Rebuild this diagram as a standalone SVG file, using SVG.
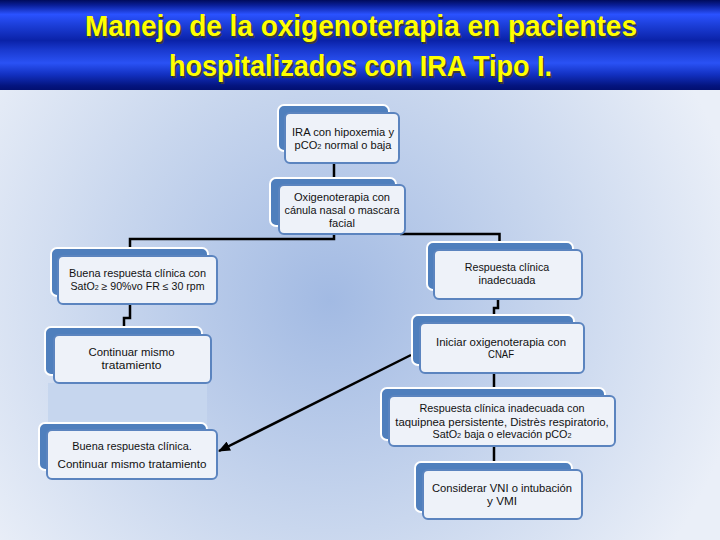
<svg xmlns="http://www.w3.org/2000/svg" width="720" height="540" viewBox="0 0 720 540">
<defs>
<linearGradient id="band" x1="0" y1="0" x2="0" y2="1">
<stop offset="0" stop-color="#000b5c"/>
<stop offset="0.06" stop-color="#0a1f9a"/>
<stop offset="0.16" stop-color="#2a52ff"/>
<stop offset="0.28" stop-color="#1c3ed8"/>
<stop offset="0.45" stop-color="#0a22a8"/>
<stop offset="0.56" stop-color="#1a3ad0"/>
<stop offset="0.7" stop-color="#2a52f5"/>
<stop offset="0.83" stop-color="#1230c0"/>
<stop offset="0.95" stop-color="#041580"/>
<stop offset="1" stop-color="#020f70"/>
</linearGradient>
<radialGradient id="bg" cx="330" cy="300" r="420" gradientUnits="userSpaceOnUse">
<stop offset="0" stop-color="#a2bae3"/>
<stop offset="0.55" stop-color="#c9d7ee"/>
<stop offset="1" stop-color="#eaeff8"/>
</radialGradient>
<marker id="ah" markerWidth="12" markerHeight="10" refX="11" refY="5" orient="auto" markerUnits="userSpaceOnUse">
<path d="M0,0 L12,5 L0,10 z" fill="#000"/>
</marker>
<style>
.back{fill:#4f7fbd;stroke:#ffffff;stroke-width:2}
.front{fill:#eef2f9;stroke:#5b84bf;stroke-width:2}
.t{font-family:"Liberation Sans",Arial,sans-serif;font-size:10.5px;fill:#111;text-anchor:middle}
.s{font-size:7px}
.conn{fill:none;stroke:#000;stroke-width:2.5}
.title{font-family:"Liberation Sans",Arial,sans-serif;font-weight:bold;font-size:29px;text-anchor:middle}
</style>
</defs>
<rect x="0" y="0" width="720" height="540" fill="url(#bg)"/>
<rect x="0" y="0" width="720" height="90" fill="url(#band)"/>
<g id="title">
<text class="title" x="362.5" y="37.5" fill="#3a3a3a" textLength="552" lengthAdjust="spacingAndGlyphs">Manejo de la oxigenoterapia en pacientes</text>
<text class="title" x="361" y="36" fill="#ffff00" textLength="552" lengthAdjust="spacingAndGlyphs">Manejo de la oxigenoterapia en pacientes</text>
<text class="title" x="362" y="77.5" fill="#3a3a3a" textLength="383" lengthAdjust="spacingAndGlyphs">hospitalizados con IRA Tipo I.</text>
<text class="title" x="360.5" y="76" fill="#ffff00" textLength="383" lengthAdjust="spacingAndGlyphs">hospitalizados con IRA Tipo I.</text>
</g>
<rect x="48" y="383" width="159" height="42" fill="#c6d6ee"/>
<g id="connectors">
<path class="conn" d="M334 162 V186"/>
<path class="conn" d="M334 232 V239 H130 V250"/>
<path class="conn" d="M400 234 H499.5 V244"/>
<path class="conn" d="M130 303 V318 H124 V328"/>
<path class="conn" d="M498 298 V308 H494 V316"/>
<path class="conn" d="M494 372 V389"/>
<path class="conn" d="M494 445 V463"/>
<path class="conn" d="M411 355 L219 451" marker-end="url(#ah)"/>
</g>
<g id="n1">
<rect class="back" x="278" y="105" width="111" height="46" rx="6"/>
<rect class="front" x="285" y="113" width="114" height="50" rx="5"/>
<text class="t" x="343" y="136" textLength="102" lengthAdjust="spacingAndGlyphs">IRA con hipoxemia y</text>
<text class="t" x="343" y="149" textLength="97" lengthAdjust="spacingAndGlyphs">pCO<tspan class="s">2</tspan> normal o baja</text>
</g>
<g id="n2">
<rect class="back" x="270" y="178" width="126" height="48" rx="6"/>
<rect class="front" x="279" y="185" width="126" height="49" rx="5"/>
<text class="t" x="342" y="201" textLength="96" lengthAdjust="spacingAndGlyphs">Oxigenoterapia con</text>
<text class="t" x="342" y="213.5" textLength="115" lengthAdjust="spacingAndGlyphs">cánula nasal o mascara</text>
<text class="t" x="342" y="226.5" textLength="26" lengthAdjust="spacingAndGlyphs">facial</text>
</g>
<g id="n3">
<rect class="back" x="51" y="248" width="157" height="48" rx="6"/>
<rect class="front" x="58" y="256" width="159" height="48" rx="5"/>
<text class="t" x="137.5" y="277" textLength="137" lengthAdjust="spacingAndGlyphs">Buena respuesta clínica con</text>
<text class="t" x="137.5" y="290" textLength="134" lengthAdjust="spacingAndGlyphs">SatO<tspan class="s">2</tspan> ≥ 90%vo FR ≤ 30 rpm</text>
</g>
<g id="n4">
<rect class="back" x="427" y="242" width="146" height="48" rx="6"/>
<rect class="front" x="434" y="250" width="148" height="49" rx="5"/>
<text class="t" x="507" y="271" textLength="84.5" lengthAdjust="spacingAndGlyphs">Respuesta clínica</text>
<text class="t" x="507" y="284" textLength="57" lengthAdjust="spacingAndGlyphs">inadecuada</text>
</g>
<g id="n5">
<rect class="back" x="45" y="327" width="157" height="48" rx="6"/>
<rect class="front" x="54" y="335" width="157" height="48" rx="5"/>
<text class="t" x="131.5" y="356" textLength="86" lengthAdjust="spacingAndGlyphs">Continuar mismo</text>
<text class="t" x="131.5" y="369" textLength="60" lengthAdjust="spacingAndGlyphs">tratamiento</text>
</g>
<g id="n6">
<rect class="back" x="412" y="315" width="162" height="50" rx="6"/>
<rect class="front" x="420" y="323" width="164" height="50" rx="5"/>
<text class="t" x="501" y="345.5" textLength="130" lengthAdjust="spacingAndGlyphs">Iniciar oxigenoterapia con</text>
<text class="t" x="501" y="358" textLength="26" lengthAdjust="spacingAndGlyphs">CNAF</text>
</g>
<g id="n7">
<rect class="back" x="381" y="388" width="224" height="52" rx="6"/>
<rect class="front" x="389" y="396" width="226" height="50" rx="5"/>
<text class="t" x="502" y="412" textLength="165" lengthAdjust="spacingAndGlyphs">Respuesta clínica inadecuada con</text>
<text class="t" x="502" y="425.5" textLength="213.5" lengthAdjust="spacingAndGlyphs">taquipnea persistente, Distrès respiratorio,</text>
<text class="t" x="502" y="438" textLength="139" lengthAdjust="spacingAndGlyphs">SatO<tspan class="s">2</tspan> baja o elevación pCO<tspan class="s">2</tspan></text>
</g>
<g id="n8">
<rect class="back" x="39" y="423" width="168" height="47" rx="6"/>
<rect class="front" x="47" y="430" width="170" height="49" rx="5"/>
<text class="t" x="132" y="450" textLength="119.5" lengthAdjust="spacingAndGlyphs">Buena respuesta clínica.</text>
<text class="t" x="132" y="468" textLength="149" lengthAdjust="spacingAndGlyphs">Continuar mismo tratamiento</text>
</g>
<g id="n9">
<rect class="back" x="415" y="462" width="157" height="50" rx="6"/>
<rect class="front" x="423" y="470" width="159" height="49" rx="5"/>
<text class="t" x="502" y="492" textLength="140" lengthAdjust="spacingAndGlyphs">Considerar VNI o intubación</text>
<text class="t" x="502" y="504.5" textLength="30" lengthAdjust="spacingAndGlyphs">y VMI</text>
</g>
</svg>
